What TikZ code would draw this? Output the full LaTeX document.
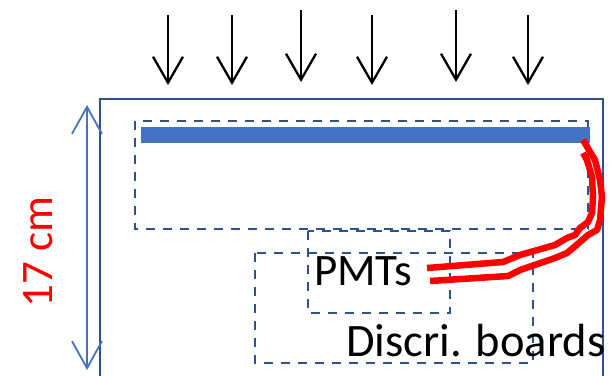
\documentclass[tikz,border=0pt]{standalone}
\usepackage{fontspec}
\setmainfont{Carlito}
\usetikzlibrary{arrows.meta}
\definecolor{boxblue}{HTML}{2F528F}
\definecolor{lightblue}{HTML}{4472C4}
\definecolor{cablered}{HTML}{FF0000}
\begin{document}
\begin{tikzpicture}[x=1pt,y=-1pt,
  beam/.style={draw=black,line width=2.3pt,-{Straight Barb[length=26pt,width=30pt]}},
  dashbox/.style={draw=boxblue,line width=2.5pt,dash pattern=on 9pt off 8pt},
  cable/.style={draw=cablered,line width=6.5pt,line join=round},
  lbl/.style={font=\fontsize{45}{50}\selectfont,inner sep=0pt}]
\useasboundingbox (0,0) rectangle (612,375);
\begin{scope}
\clip (0,0) rectangle (612,375);
% outer frame
\draw[boxblue,line width=2.5pt] (100,385) -- (100,99) -- (603,99) -- (603,385);
% dashed regions
\draw[dashbox] (135,121) rectangle (588,229);
\draw[dashbox] (308,231) rectangle (450,313);
\draw[dashbox] (255,253) rectangle (533,363);
% scintillator bar
\fill[lightblue] (141,127) rectangle (590,143);
% incoming arrows
\foreach \x/\t/\b in {168/15/85,232/15/85,301/10/82,372/15/85,456/10/82,528/15/85}{
  \coordinate (s\x) at (\x,\t);
  \coordinate (e\x) at (\x,\b);
  \draw[beam] (s\x) -- (e\x);
}
% dimension arrow
\coordinate (dimtop) at (87,105);
\coordinate (dimbot) at (87,370);
\draw[lightblue,line width=1.8pt,{Straight Barb[length=27pt,width=30pt]}-{Straight Barb[length=27pt,width=30pt]}] (dimtop) -- (dimbot);
\node[lbl,text=cablered,rotate=90,anchor=base] (dim) at (52,252) {17 cm};
% labels
\node[lbl,anchor=base west] (pmt) at (314,285) {PMTs};
\node[lbl,anchor=base west,font=\fontsize{46.5}{50}\selectfont] (disc) at (346,356) {Discri. boards};
% cable
\draw[cable] (430,281) -- (508,276) -- (520,270) -- (555,258) -- (567,253) -- (573,248) -- (580,242) -- (588,235) -- (597,230) -- (600,220) -- (602,197) -- (600,180) -- (595,160) -- (583,140);
\draw[cable] (427,268) -- (503,262) -- (520,255) -- (555,245) -- (567,238) -- (575,235) -- (580,228) -- (588,222) -- (592,213) -- (593,197) -- (592,177) -- (587,160) -- (583,153);
\end{scope}
\end{tikzpicture}
\end{document}
